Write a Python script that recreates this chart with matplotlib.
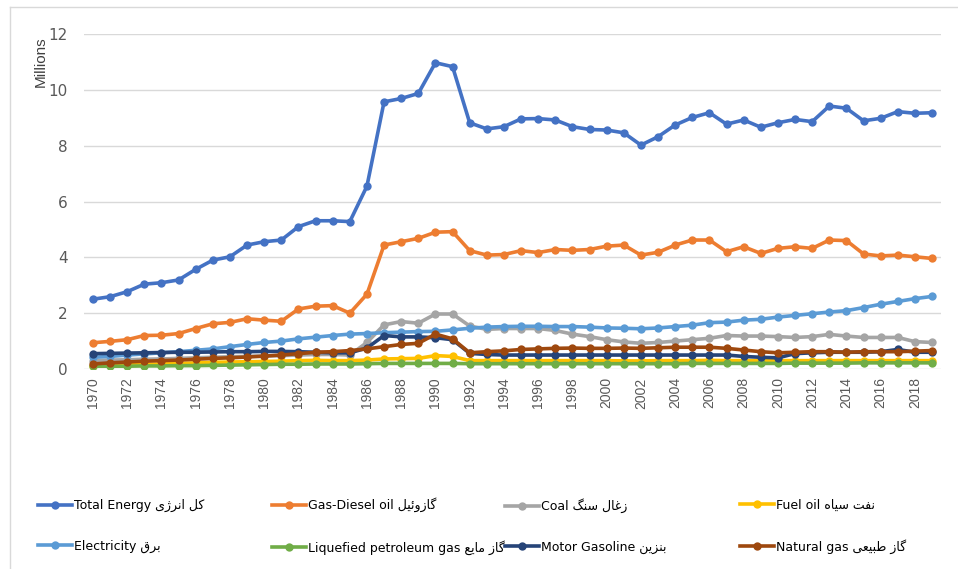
import numpy as np
import matplotlib
matplotlib.use("Agg")
import matplotlib.pyplot as plt
from matplotlib.lines import Line2D

years = list(range(1970, 2020))

total_energy = [2.5, 2.59, 2.77, 3.04, 3.09, 3.19, 3.57, 3.9, 4.02, 4.44,
                4.56, 4.62, 5.1, 5.31, 5.31, 5.28, 6.55, 9.57, 9.69, 9.87,
                10.97, 10.83, 8.82, 8.6, 8.68, 8.96, 8.97, 8.92, 8.68, 8.58,
                8.56, 8.46, 8.02, 8.32, 8.74, 9.01, 9.18, 8.77, 8.92, 8.66,
                8.82, 8.94, 8.86, 9.42, 9.34, 8.89, 8.98, 9.22, 9.16, 9.18]
gas_diesel = [0.94, 0.99, 1.05, 1.2, 1.21, 1.27, 1.45, 1.62, 1.67, 1.8,
              1.75, 1.71, 2.15, 2.25, 2.27, 2.0, 2.68, 4.44, 4.56, 4.68,
              4.9, 4.92, 4.24, 4.08, 4.1, 4.24, 4.17, 4.28, 4.25, 4.28,
              4.4, 4.44, 4.08, 4.18, 4.44, 4.62, 4.62, 4.2, 4.38, 4.14,
              4.32, 4.38, 4.32, 4.62, 4.6, 4.12, 4.05, 4.08, 4.02, 3.96]
coal = [0.3, 0.32, 0.33, 0.35, 0.36, 0.38, 0.4, 0.42, 0.44, 0.45,
        0.47, 0.48, 0.5, 0.52, 0.52, 0.5, 0.95, 1.58, 1.7, 1.64,
        1.97, 1.97, 1.54, 1.42, 1.45, 1.45, 1.45, 1.38, 1.25, 1.16,
        1.05, 0.97, 0.92, 0.95, 1.0, 1.05, 1.1, 1.2, 1.18, 1.18,
        1.16, 1.13, 1.16, 1.24, 1.18, 1.13, 1.13, 1.13, 0.98, 0.95]
fuel_oil = [0.12, 0.13, 0.15, 0.17, 0.18, 0.2, 0.22, 0.24, 0.25, 0.26,
            0.27, 0.28, 0.3, 0.31, 0.3, 0.3, 0.32, 0.36, 0.37, 0.38,
            0.48, 0.45, 0.3, 0.3, 0.3, 0.3, 0.3, 0.3, 0.3, 0.3,
            0.3, 0.29, 0.29, 0.3, 0.3, 0.3, 0.31, 0.3, 0.3, 0.3,
            0.3, 0.3, 0.3, 0.3, 0.3, 0.3, 0.3, 0.3, 0.3, 0.3]
electricity = [0.42, 0.45, 0.5, 0.54, 0.58, 0.62, 0.67, 0.72, 0.8, 0.88,
               0.95, 1.0, 1.08, 1.14, 1.2, 1.25, 1.27, 1.3, 1.32, 1.34,
               1.35, 1.4, 1.46, 1.5, 1.52, 1.53, 1.53, 1.52, 1.52, 1.5,
               1.47, 1.46, 1.44, 1.47, 1.52, 1.57, 1.66, 1.68, 1.75, 1.78,
               1.86, 1.92, 1.98, 2.04, 2.09, 2.2, 2.32, 2.42, 2.52, 2.6]
lpg = [0.1, 0.1, 0.1, 0.11, 0.11, 0.12, 0.12, 0.13, 0.14, 0.15,
       0.16, 0.17, 0.17, 0.18, 0.18, 0.18, 0.19, 0.2, 0.2, 0.2,
       0.2, 0.2, 0.19, 0.19, 0.19, 0.19, 0.19, 0.19, 0.19, 0.19,
       0.19, 0.19, 0.19, 0.19, 0.19, 0.2, 0.2, 0.2, 0.2, 0.2,
       0.2, 0.21, 0.21, 0.21, 0.21, 0.22, 0.22, 0.22, 0.22, 0.22]
motor_gasoline = [0.55, 0.56, 0.57, 0.58, 0.59, 0.6, 0.6, 0.61, 0.62, 0.62,
                  0.63, 0.63, 0.62, 0.6, 0.58, 0.58, 0.75, 1.2, 1.15, 1.15,
                  1.12, 1.05, 0.56, 0.52, 0.5, 0.5, 0.5, 0.5, 0.5, 0.5,
                  0.5, 0.5, 0.5, 0.5, 0.5, 0.5, 0.5, 0.5, 0.45, 0.42,
                  0.4, 0.55, 0.58, 0.6, 0.6, 0.6, 0.62, 0.7, 0.6, 0.6]
natural_gas = [0.18, 0.22, 0.25, 0.28, 0.3, 0.32, 0.35, 0.38, 0.4, 0.43,
               0.46, 0.5, 0.55, 0.6, 0.62, 0.66, 0.72, 0.8, 0.88, 0.92,
               1.25, 1.08, 0.58, 0.62, 0.65, 0.7, 0.72, 0.74, 0.75, 0.74,
               0.74, 0.75, 0.74, 0.76, 0.78, 0.78, 0.78, 0.74, 0.68, 0.62,
               0.58, 0.6, 0.62, 0.62, 0.6, 0.62, 0.62, 0.62, 0.64, 0.66]

# Persian parts written in visual (left-to-right) order with presentation forms
labels = [
    "Total Energy \u06CC\u0698\uFEAE\uFEE7\u0627 \uFEDE\uFEDB",
    "Gas-Diesel oil \uFEDE\uFEF4\uFE8B\u0648\u0632\uFE8E\uFB94",
    "Coal \uFB93\uFEE8\uFEB3 \u0644\uFE8E\uFECF\u0632",
    "Fuel oil \u0647\uFE8E\uFEF4\uFEB3 \uFE96\uFED4\uFEE7",
    "Electricity \u0642\uFEAE\uFE91",
    "Liquefied petroleum gas \uFECA\uFEF3\uFE8E\uFEE3 \u0632\uFE8E\uFB94",
    "Motor Gasoline \uFEE6\uFEF3\uFEB0\uFEE8\uFE91",
    "Natural gas \uFEF0\uFECC\uFEF4\uFE92\uFEC3 \u0632\uFE8E\uFB94",
]
series = [total_energy, gas_diesel, coal, fuel_oil,
          electricity, lpg, motor_gasoline, natural_gas]
colors = ["#4472C4", "#ED7D31", "#A5A5A5", "#FFC000",
          "#5B9BD5", "#70AD47", "#264478", "#9E480E"]

W, H = 958, 569
fig = plt.figure(figsize=(W / 100, H / 100), dpi=100)
ax = fig.add_axes([84.4 / W, 1 - 369 / H, (940.6 - 84.4) / W, (369 - 34) / H])

for vals, c, lab in zip(series, colors, labels):
    ax.plot(years, vals, color=c, lw=2.6, marker="o", ms=6,
            markeredgewidth=0, label=lab)

ax.set_xlim(1969.5, 2019.5)
ax.set_ylim(0, 12)
ax.set_yticks(range(0, 13, 2))
ax.set_xticks(years[::2])
ax.set_xticklabels([str(y) for y in years[::2]], rotation=90,
                   fontsize=10, color="#595959", family="Liberation Sans")
ax.tick_params(axis="y", length=0, pad=12, labelsize=11, labelcolor="#595959")
for t in ax.get_yticklabels():
    t.set_family(["Liberation Sans Narrow", "DejaVu Sans"])
ax.tick_params(axis="x", length=0, pad=6)
ax.grid(axis="y", color="#D9D9D9", lw=1)
ax.set_axisbelow(True)
for s in ax.spines.values():
    s.set_visible(False)

fig.text(41 / W, 1 - 62 / H, "Millions", rotation=90, ha="center", va="center",
         fontsize=11, color="#404040", family="Liberation Sans")

# legend: 4 columns x 2 rows
col_x = [38, 272, 505, 740]
cols = [[0, 4], [1, 5], [2, 6], [3, 7]]
for x0, idx in zip(col_x, cols):
    handles = [Line2D([], [], color=colors[i], lw=2.6, marker="o", ms=6,
                      markeredgewidth=0) for i in idx]
    fig.legend(handles, [labels[i] for i in idx], loc="center left",
               bbox_to_anchor=(x0 / W, 1 - 526 / H), frameon=False,
               borderpad=0, borderaxespad=0, handlelength=2.7,
               handletextpad=0.2, labelspacing=2.2,
               prop={"family": ["Liberation Sans Narrow", "DejaVu Sans"], "size": 9})

# light chart frame
fig.add_artist(Line2D([10 / W, 1], [1 - 7 / H, 1 - 7 / H], color="#D9D9D9", lw=1))
fig.add_artist(Line2D([10 / W, 10 / W], [0, 1 - 7 / H], color="#D9D9D9", lw=1))

fig.savefig("out.png", dpi=100)
